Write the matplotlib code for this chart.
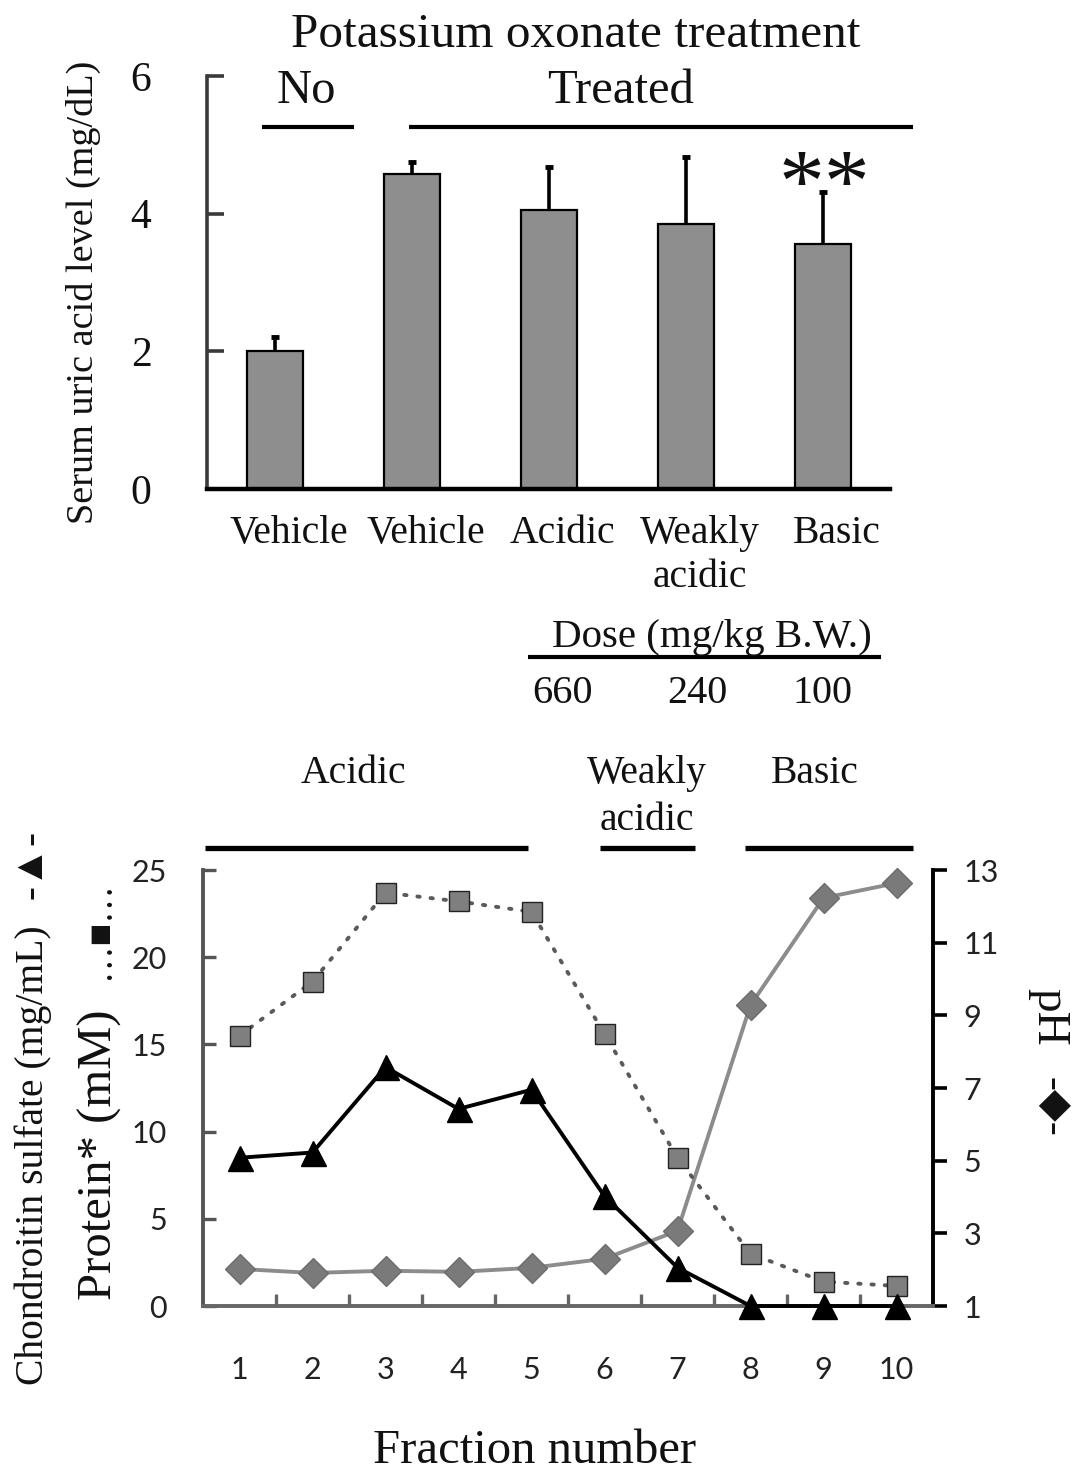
import matplotlib
matplotlib.use("Agg")
import matplotlib.pyplot as plt
import matplotlib.transforms as mtrans
from matplotlib.lines import Line2D
import numpy as np

# ---------------- data ----------------
groups = ["Vehicle", "Vehicle", "Acidic", "Weakly\nacidic", "Basic"]
uric_mean = [2.00, 4.58, 4.05, 3.85, 3.56]
uric_err = [0.21, 0.17, 0.63, 0.97, 0.75]
top_yticks = [0, 2, 4, 6]
dose_labels = ["660", "240", "100"]

fractions = [1, 2, 3, 4, 5, 6, 7, 8, 9, 10]
protein = [15.5, 18.6, 23.7, 23.2, 22.6, 15.6, 8.5, 3.0, 1.4, 1.15]
chondroitin = [8.5, 8.8, 13.7, 11.3, 12.4, 6.3, 2.2, 0.0, 0.0, 0.0]
ph = [2.02, 1.91, 1.97, 1.94, 2.05, 2.30, 3.07, 9.28, 12.23, 12.64]
left_yticks = [0, 5, 10, 15, 20, 25]
right_yticks = [1, 3, 5, 7, 9, 11, 13]

SERIF = ["Liberation Serif", "DejaVu Serif"]
SYM = ["Liberation Serif", "DejaVu Sans"]
SANS = ["Lato", "DejaVu Sans"]

W, H = 1076, 1472
fig = plt.figure(figsize=(W / 100, H / 100), dpi=100)
fig.patch.set_facecolor("white")


def ftext(px, py, s, **kw):
    kw.setdefault("family", SERIF)
    kw.setdefault("color", "#111111")
    return fig.text(px / W, 1 - py / H, s, **kw)


def fline(x0, x1, py, lw=3.0):
    fig.add_artist(Line2D([x0 / W, x1 / W], [1 - py / H, 1 - py / H],
                          transform=fig.transFigure, color="black", lw=lw,
                          solid_capstyle="butt"))


# ---------------- top panel ----------------
ax1 = fig.add_axes([207 / W, 1 - 489 / H, (890 - 207) / W, (489 - 76) / H])
x = np.arange(len(groups))
ax1.bar(x, uric_mean, width=0.41, color="#8e8e8e", edgecolor="black",
        linewidth=1.6, zorder=2)
eb = ax1.errorbar(x, uric_mean, yerr=[np.zeros(len(x)), uric_err], fmt="none",
                  ecolor="black", elinewidth=2.6, capsize=3, capthick=3.5,
                  zorder=3)
eb[1][0].set_visible(False)
ax1.set_xlim(-0.496, 4.49)
ax1.set_ylim(0, 6)
for s in ["top", "right"]:
    ax1.spines[s].set_visible(False)
ax1.spines["left"].set_color("#3a3a3a")
ax1.spines["left"].set_linewidth(2.6)
ax1.spines["bottom"].set_color("black")
ax1.spines["bottom"].set_linewidth(3.2)
ax1.set_yticks(top_yticks)
ax1.tick_params(axis="y", direction="in", length=12, width=2.6,
                color="#3a3a3a", pad=40, labelsize=30, labelcolor="#111111")
for lab in ax1.get_yticklabels():
    lab.set_family(SERIF)
ax1.set_xticks(x)
ax1.set_xticklabels(groups, fontsize=28.5, family=SERIF, color="#111111",
                    linespacing=1.25)
ax1.tick_params(axis="x", length=0, pad=19)
off = mtrans.ScaledTranslation(0.14, 0, fig.dpi_scale_trans)
for lab in ax1.get_xticklabels():
    lab.set_transform(lab.get_transform() + off)

ftext(83, 292, "Serum uric acid level (mg/dL)", rotation=90, ha="center",
      va="center", fontsize=27.5)
ftext(576, 47, "Potassium oxonate treatment", ha="center", va="baseline",
      fontsize=35.5)
ftext(306, 103, "No", ha="center", va="baseline", fontsize=35)
ftext(621, 103, "Treated", ha="center", va="baseline", fontsize=35)
fline(262, 354, 127, 3.0)
fline(409, 913, 127, 3.0)
ftext(824, 212, "**", ha="center", va="baseline", fontsize=66)
ftext(712, 647, "Dose (mg/kg B.W.)", ha="center", va="baseline", fontsize=29.5)
fline(528, 881, 657, 3.0)
for px, lbl in zip([563, 697, 822], dose_labels):
    ftext(px, 703, lbl, ha="center", va="baseline", fontsize=29)

# ---------------- bottom panel ----------------
ax2 = fig.add_axes([203 / W, 1 - 1306 / H, (933 - 203) / W, (1306 - 870) / H])
ax3 = ax2.twinx()
ax3.set_zorder(1)
ax2.set_zorder(2)
ax2.patch.set_visible(False)

ax2.plot(fractions, protein, linestyle=(0, (0.6, 2.8)), dash_capstyle="round",
         color="#5a5a5a", lw=2.8, marker="s", ms=14.5, mfc="#7f7f7f",
         mec="#222222", mew=1.0, clip_on=False, zorder=3)
ax2.plot(fractions, chondroitin, color="black", lw=2.8, marker="^", ms=18,
         clip_on=False, zorder=4)
ax3.plot(fractions, ph, color="#8c8c8c", lw=2.8, marker="D", ms=15.5,
         mfc="#7a7a7a", mec="#6d6d6d", mew=1.0, clip_on=False)

ax2.set_xlim(0.5, 10.5)
ax2.set_ylim(0, 25)
ax3.set_ylim(1, 13)
ax2.spines["top"].set_visible(False)
ax2.spines["right"].set_visible(False)
ax2.spines["left"].set_color("#555555")
ax2.spines["left"].set_linewidth(2.8)
ax2.spines["bottom"].set_color("#666666")
ax2.spines["bottom"].set_linewidth(2.8)
for s in ["top", "left", "bottom"]:
    ax3.spines[s].set_visible(False)
ax3.spines["right"].set_color("black")
ax3.spines["right"].set_linewidth(2.8)

ax2.set_xticks(fractions)
ax2.set_xticks([f + 0.5 for f in fractions[:-1]], minor=True)
ax2.tick_params(axis="x", which="major", length=0, pad=36, labelsize=22,
                labelcolor="#222222")
ax2.tick_params(axis="x", which="minor", direction="in", length=9, width=2.4,
                color="#666666")
ax2.set_yticks(left_yticks)
ax2.tick_params(axis="y", direction="in", length=9, width=2.4,
                color="#555555", pad=26, labelsize=22, labelcolor="#222222")
ax3.set_yticks(right_yticks)
ax3.tick_params(axis="y", direction="out", length=10, width=2.6,
                color="black", pad=12, labelsize=22, labelcolor="#222222")
for lab in ax2.get_xticklabels() + ax2.get_yticklabels() + ax3.get_yticklabels():
    lab.set_family(SANS)

# region labels
ftext(353, 783, "Acidic", ha="center", va="baseline", fontsize=28.5)
ftext(647, 783, "Weakly", ha="center", va="baseline", fontsize=28.5)
ftext(647, 830, "acidic", ha="center", va="baseline", fontsize=28.5)
ftext(815, 783, "Basic", ha="center", va="baseline", fontsize=28.5)
fline(205, 528, 848, 3.8)
fline(600, 695, 848, 3.8)
fline(745, 913, 848, 3.8)

# axis labels
ftext(33, 1385, "Chondroitin sulfate (mg/mL)", rotation=90, ha="center",
      va="bottom", fontsize=28.5)
ftext(31, 864, "-\u25B2-", rotation=90, ha="center", va="center",
      fontsize=30, family=SYM)
ftext(100, 1300, "Protein* (mM)", rotation=90, ha="center", va="bottom",
      fontsize=35)
ftext(100, 930, "\u2026\u25A0\u2026", rotation=90, ha="center", va="center",
      fontsize=27, family=SYM)
ftext(1049, 1017, "pH", rotation=270, ha="center", va="center", fontsize=34)
ftext(1051, 1107, "-\u25C6-", rotation=270, ha="center", va="center",
      fontsize=30, family=SYM)
ftext(535, 1463, "Fraction number", ha="center", va="baseline", fontsize=35)

fig.savefig("out.png", dpi=100, facecolor="white")
